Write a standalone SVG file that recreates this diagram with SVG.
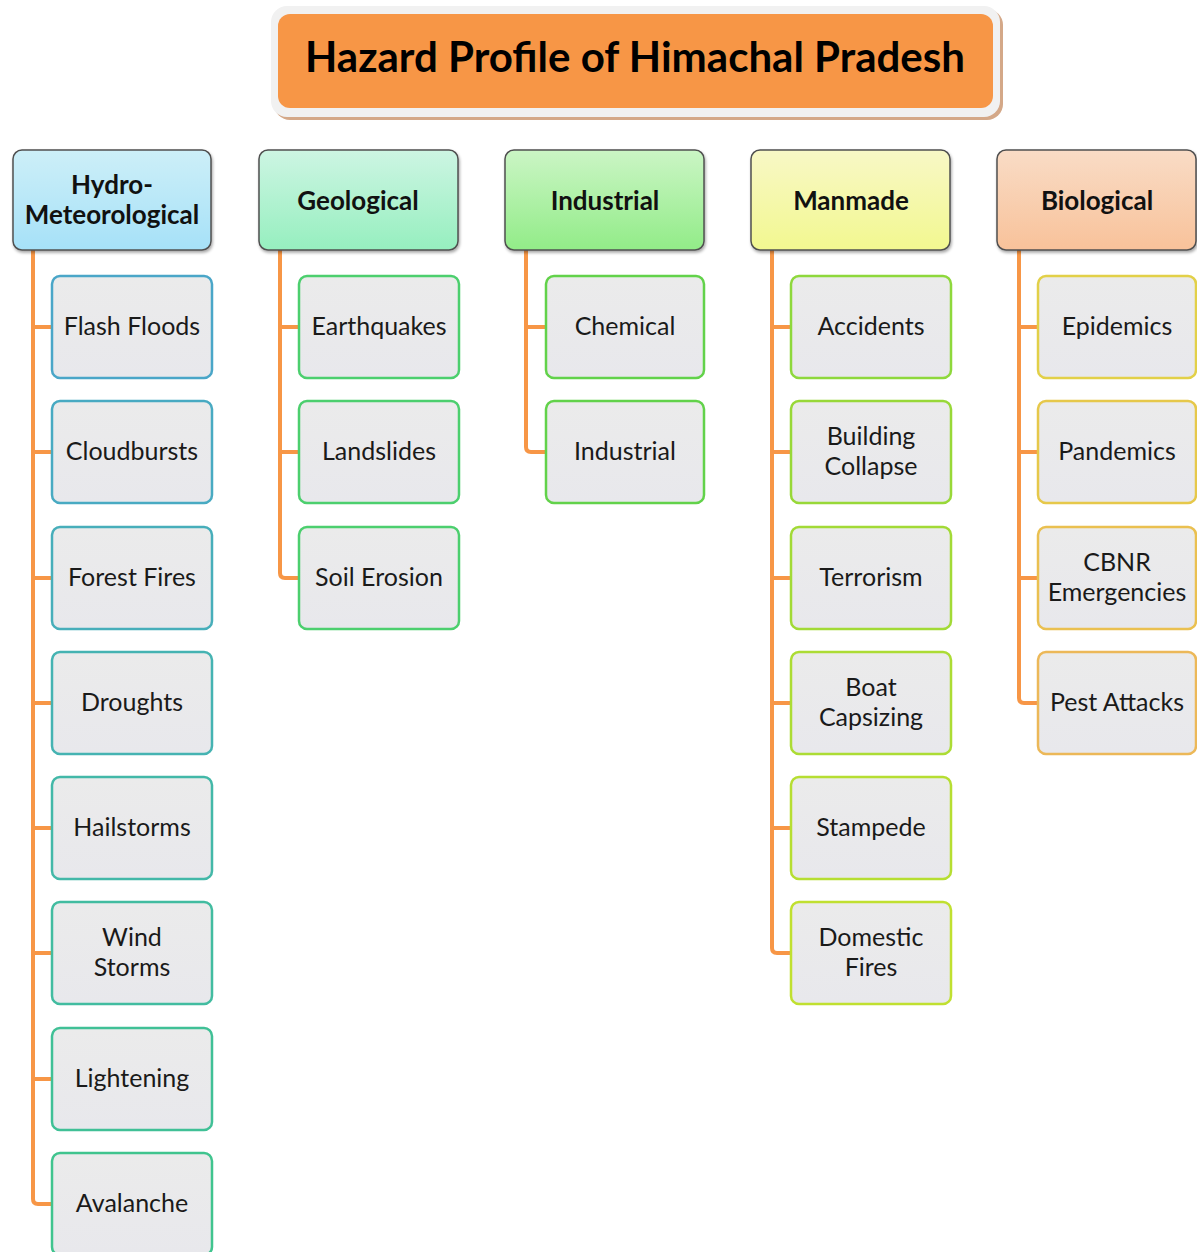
<svg xmlns="http://www.w3.org/2000/svg" width="1197" height="1252" viewBox="0 0 1197 1252">
<defs>
<style>
.hd{stroke:#505050;stroke-width:1.5}
.ch{stroke-width:2.5}
.ht{font-family:Lato,"Open Sans",sans-serif;font-weight:bold;font-size:26px;fill:#111;text-anchor:middle}
.ct{font-family:Lato,"Open Sans",sans-serif;font-size:25px;fill:#1a1a1a;text-anchor:middle}
.cn{fill:none;stroke:#F79646;stroke-width:4}
</style>
<filter id="sh" x="-10%" y="-10%" width="125%" height="130%"><feDropShadow dx="1" dy="2" stdDeviation="1.5" flood-color="#000" flood-opacity="0.35"/></filter>
<linearGradient id="gH" x1="0" y1="0" x2="0" y2="1"><stop offset="0" stop-color="#CDEFF8"/><stop offset="1" stop-color="#A6E1F8"/></linearGradient>
<linearGradient id="gG" x1="0" y1="0" x2="0" y2="1"><stop offset="0" stop-color="#CDF5E3"/><stop offset="1" stop-color="#96EFBF"/></linearGradient>
<linearGradient id="gI" x1="0" y1="0" x2="0" y2="1"><stop offset="0" stop-color="#CBF5C5"/><stop offset="1" stop-color="#92EC88"/></linearGradient>
<linearGradient id="gM" x1="0" y1="0" x2="0" y2="1"><stop offset="0" stop-color="#F8F8C6"/><stop offset="1" stop-color="#F2F890"/></linearGradient>
<linearGradient id="gB" x1="0" y1="0" x2="0" y2="1"><stop offset="0" stop-color="#F9DCC6"/><stop offset="1" stop-color="#F8C29A"/></linearGradient>
<linearGradient id="gC" x1="0" y1="0" x2="0" y2="1"><stop offset="0" stop-color="#EBEBEB"/><stop offset="1" stop-color="#E8E8EC"/></linearGradient>
</defs>
<rect width="1197" height="1252" fill="#fff"/>

<g id="title">
<rect x="274" y="9" width="729" height="111" rx="16" fill="#D4A888"/>
<rect x="271" y="6" width="729" height="111" rx="16" fill="#F1F1F1"/>
<rect x="278" y="14" width="715" height="94" rx="12" fill="#F79646"/>
<text x="635" y="72" font-family="Lato,'Open Sans',sans-serif" font-weight="bold" font-size="42" fill="#000" text-anchor="middle" textLength="660" lengthAdjust="spacingAndGlyphs">Hazard Profile of Himachal Pradesh</text>
</g>

<g id="connectors">
<path class="cn" d="M33,250 V1199 Q33,1204 38,1204 H52 M33,327 H52 M33,452 H52 M33,578 H52 M33,703 H52 M33,828 H52 M33,953 H52 M33,1079 H52"/>
<path class="cn" d="M280,250 V573 Q280,578 285,578 H299 M280,327 H299 M280,452 H299"/>
<path class="cn" d="M526,250 V447 Q526,452 531,452 H546 M526,327 H546"/>
<path class="cn" d="M772,250 V948 Q772,953 777,953 H791 M772,327 H791 M772,452 H791 M772,578 H791 M772,703 H791 M772,828 H791"/>
<path class="cn" d="M1019,250 V698 Q1019,703 1024,703 H1038 M1019,327 H1038 M1019,452 H1038 M1019,578 H1038"/>
</g>

<g id="h-hydro"><rect class="hd" x="13" y="150" width="198" height="100" rx="9" fill="url(#gH)" filter="url(#sh)"/><text class="ht" x="112" y="194">Hydro-</text><text class="ht" x="112" y="224">Meteorological</text></g>
<g id="h-geo"><rect class="hd" x="259" y="150" width="199" height="100" rx="9" fill="url(#gG)" filter="url(#sh)"/><text class="ht" x="358" y="210">Geological</text></g>
<g id="h-ind"><rect class="hd" x="505" y="150" width="199" height="100" rx="9" fill="url(#gI)" filter="url(#sh)"/><text class="ht" x="605" y="210">Industrial</text></g>
<g id="h-man"><rect class="hd" x="751" y="150" width="199" height="100" rx="9" fill="url(#gM)" filter="url(#sh)"/><text class="ht" x="851" y="210">Manmade</text></g>
<g id="h-bio"><rect class="hd" x="997" y="150" width="199" height="100" rx="9" fill="url(#gB)" filter="url(#sh)"/><text class="ht" x="1097" y="210">Biological</text></g>

<g id="c-flash"><rect class="ch" x="52" y="276" width="160" height="102" rx="8" fill="url(#gC)" stroke="#4AA6C8"/><text class="ct" x="132" y="335">Flash Floods</text></g>
<g id="c-cloud"><rect class="ch" x="52" y="401" width="160" height="102" rx="8" fill="url(#gC)" stroke="#48AAC2"/><text class="ct" x="132" y="460">Cloudbursts</text></g>
<g id="c-forest"><rect class="ch" x="52" y="527" width="160" height="102" rx="8" fill="url(#gC)" stroke="#47AEBA"/><text class="ct" x="132" y="586">Forest Fires</text></g>
<g id="c-drought"><rect class="ch" x="52" y="652" width="160" height="102" rx="8" fill="url(#gC)" stroke="#45B3B2"/><text class="ct" x="132" y="711">Droughts</text></g>
<g id="c-hail"><rect class="ch" x="52" y="777" width="160" height="102" rx="8" fill="url(#gC)" stroke="#43B8A8"/><text class="ct" x="132" y="836">Hailstorms</text></g>
<g id="c-wind"><rect class="ch" x="52" y="902" width="160" height="102" rx="8" fill="url(#gC)" stroke="#42BCA0"/><text class="ct" x="132" y="946">Wind</text><text class="ct" x="132" y="976">Storms</text></g>
<g id="c-light"><rect class="ch" x="52" y="1028" width="160" height="102" rx="8" fill="url(#gC)" stroke="#40C096"/><text class="ct" x="132" y="1087">Lightening</text></g>
<g id="c-aval"><rect class="ch" x="52" y="1153" width="160" height="102" rx="8" fill="url(#gC)" stroke="#40C48E"/><text class="ct" x="132" y="1212">Avalanche</text></g>

<g id="c-eq"><rect class="ch" x="299" y="276" width="160" height="102" rx="8" fill="url(#gC)" stroke="#4CCF6E"/><text class="ct" x="379" y="335">Earthquakes</text></g>
<g id="c-land"><rect class="ch" x="299" y="401" width="160" height="102" rx="8" fill="url(#gC)" stroke="#4CCF6E"/><text class="ct" x="379" y="460">Landslides</text></g>
<g id="c-soil"><rect class="ch" x="299" y="527" width="160" height="102" rx="8" fill="url(#gC)" stroke="#4CCF6E"/><text class="ct" x="379" y="586">Soil Erosion</text></g>

<g id="c-chem"><rect class="ch" x="546" y="276" width="158" height="102" rx="8" fill="url(#gC)" stroke="#62D24A"/><text class="ct" x="625" y="335">Chemical</text></g>
<g id="c-indus"><rect class="ch" x="546" y="401" width="158" height="102" rx="8" fill="url(#gC)" stroke="#62D24A"/><text class="ct" x="625" y="460">Industrial</text></g>

<g id="c-acc"><rect class="ch" x="791" y="276" width="160" height="102" rx="8" fill="url(#gC)" stroke="#8ED83C"/><text class="ct" x="871" y="335">Accidents</text></g>
<g id="c-build"><rect class="ch" x="791" y="401" width="160" height="102" rx="8" fill="url(#gC)" stroke="#98D838"/><text class="ct" x="871" y="445">Building</text><text class="ct" x="871" y="475">Collapse</text></g>
<g id="c-terr"><rect class="ch" x="791" y="527" width="160" height="102" rx="8" fill="url(#gC)" stroke="#A2DA36"/><text class="ct" x="871" y="586">Terrorism</text></g>
<g id="c-boat"><rect class="ch" x="791" y="652" width="160" height="102" rx="8" fill="url(#gC)" stroke="#ACDC34"/><text class="ct" x="871" y="696">Boat</text><text class="ct" x="871" y="726">Capsizing</text></g>
<g id="c-stamp"><rect class="ch" x="791" y="777" width="160" height="102" rx="8" fill="url(#gC)" stroke="#B6DE32"/><text class="ct" x="871" y="836">Stampede</text></g>
<g id="c-dom"><rect class="ch" x="791" y="902" width="160" height="102" rx="8" fill="url(#gC)" stroke="#C0E030"/><text class="ct" x="871" y="946">Domestic</text><text class="ct" x="871" y="976">Fires</text></g>

<g id="c-epi"><rect class="ch" x="1038" y="276" width="158" height="102" rx="8" fill="url(#gC)" stroke="#E2D048"/><text class="ct" x="1117" y="335">Epidemics</text></g>
<g id="c-pan"><rect class="ch" x="1038" y="401" width="158" height="102" rx="8" fill="url(#gC)" stroke="#E6C84A"/><text class="ct" x="1117" y="460">Pandemics</text></g>
<g id="c-cbnr"><rect class="ch" x="1038" y="527" width="158" height="102" rx="8" fill="url(#gC)" stroke="#EAC050"/><text class="ct" x="1117" y="571">CBNR</text><text class="ct" x="1117" y="601">Emergencies</text></g>
<g id="c-pest"><rect class="ch" x="1038" y="652" width="158" height="102" rx="8" fill="url(#gC)" stroke="#ECB858"/><text class="ct" x="1117" y="711">Pest Attacks</text></g>
</svg>
